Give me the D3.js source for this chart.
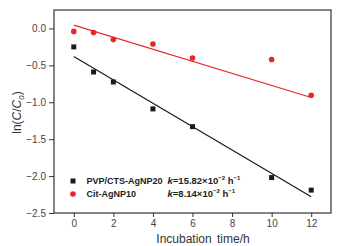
<!DOCTYPE html>
<html>
<head>
<meta charset="utf-8">
<script src="https://cdn.jsdelivr.net/npm/d3@7"></script>
<style>
  body { margin: 0; background: #fff; }
  text { font-family: "Liberation Sans", Arial, sans-serif; }
</style>
</head>
<body>
<div id="chart"></div>
<script>
// incubation time (h) and ln(C/C0)
let times = [0, 1, 2, 4, 6, 10, 12];
let pvpValues = [-0.25, -0.59, -0.725, -1.09, -1.33, -2.02, -2.19];
let citValues = [-0.04, -0.055, -0.15, -0.21, -0.40, -0.42, -0.905];

// linear fit end points (x = 0 and x = 12)
let fitX = [0, 12];
let pvpFit = [-0.38, -2.28];
let citFit = [0.045, -0.935];

let xTicks = [0, 2, 4, 6, 8, 10, 12];
let yTicks = [0.0, -0.5, -1.0, -1.5, -2.0, -2.5];

let seriesNames = ['PVP/CTS-AgNP20', 'Cit-AgNP10'];
let seriesK = ['15.82', '8.14'];

let margin = {top: 10, left: 54, right: 27, bottom: 33},
  width = 358 - margin.left - margin.right,
  height = 246 - margin.top - margin.bottom;

let svg = d3.select('#chart')
  .append('svg')
    .attr('width', 358)
    .attr('height', 246)
  .append('g')
    .attr('transform', 'translate(' + margin.left + ',' + margin.top + ')');

let x = d3.scaleLinear().domain([-1, 13]).range([0, width]);
let y = d3.scaleLinear().domain([-2.5, 0.25]).range([height, 0]);

// axes
let xAxis = svg.append('g')
  .attr('transform', 'translate(0,' + height + ')')
  .call(d3.axisBottom(x).tickValues(xTicks).tickSize(4).tickPadding(3).tickFormat(d3.format('d')));
let yAxis = svg.append('g')
  .call(d3.axisLeft(y).tickValues(yTicks).tickSize(5).tickPadding(3).tickFormat(d3.format('.1f')));

[xAxis, yAxis].forEach(function(a) {
  a.select('.domain').remove();
  a.selectAll('line').attr('stroke', '#333').attr('stroke-width', 1);
  a.selectAll('text').style('font-size', '10px').attr('fill', '#444');
});

// frame
svg.append('rect')
  .attr('width', width)
  .attr('height', height)
  .attr('fill', 'none')
  .attr('stroke', '#333')
  .attr('stroke-width', 1.2);

// fit lines
let line = d3.line().x(function(d) {return x(d[0]);}).y(function(d) {return y(d[1]);});
svg.append('path')
  .datum(d3.zip(fitX, pvpFit))
  .attr('d', line)
  .attr('fill', 'none')
  .attr('stroke', '#1a1a1a')
  .attr('stroke-width', 1.2);
svg.append('path')
  .datum(d3.zip(fitX, citFit))
  .attr('d', line)
  .attr('fill', 'none')
  .attr('stroke', '#e8262a')
  .attr('stroke-width', 1.2);

// markers
let sq = 5;
svg.selectAll('.pvp').data(d3.zip(times, pvpValues))
  .enter()
  .append('rect')
    .attr('class', 'pvp')
    .attr('x', function(d) {return x(d[0]) - sq / 2;})
    .attr('y', function(d) {return y(d[1]) - sq / 2;})
    .attr('width', sq)
    .attr('height', sq)
    .attr('fill', '#1a1a1a');
svg.selectAll('.cit').data(d3.zip(times, citValues))
  .enter()
  .append('circle')
    .attr('class', 'cit')
    .attr('cx', function(d) {return x(d[0]);})
    .attr('cy', function(d) {return y(d[1]);})
    .attr('r', 2.8)
    .attr('fill', '#e8262a');

// legend
let legend = svg.append('g').attr('transform', 'translate(19,171)');
seriesNames.forEach(function(name, i) {
  let row = legend.append('g').attr('transform', 'translate(0,' + (i * 13) + ')');
  if (i === 0) {
    row.append('rect').attr('x', -2.5).attr('y', -2.5).attr('width', sq).attr('height', sq).attr('fill', '#1a1a1a');
  } else {
    row.append('circle').attr('r', 2.8).attr('fill', '#e8262a');
  }
  row.append('text')
    .attr('x', 13.5)
    .attr('y', 3.4)
    .style('font-size', '9px')
    .style('font-weight', 'bold')
    .attr('fill', '#222')
    .text(name);
  let k = row.append('text')
    .attr('x', 94.5)
    .attr('y', 3.4)
    .style('font-size', '9.5px')
    .style('font-weight', 'bold')
    .attr('fill', '#222');
  k.append('tspan').style('font-style', 'italic').text('k');
  k.append('tspan').text('=' + seriesK[i] + '×10');
  k.append('tspan').attr('dy', -4).style('font-size', '6px').text('−2');
  k.append('tspan').attr('dy', 4).text(' h');
  k.append('tspan').attr('dy', -4).style('font-size', '6px').text('−1');
});

// axis titles
svg.append('text')
  .attr('x', 149)
  .attr('y', height + 30)
  .style('font-size', '12px')
  .attr('fill', '#333')
  .attr('text-anchor', 'middle')
  .attr('word-spacing', '2px')
  .text('Incubation time/h');

let yTitle = svg.append('text')
  .attr('transform', 'translate(-33,' + (height / 2 + 1) + ') rotate(-90)')
  .attr('text-anchor', 'middle')
  .style('font-size', '12px')
  .attr('fill', '#333');
yTitle.append('tspan').text('ln(');
yTitle.append('tspan').style('font-style', 'italic').text('C');
yTitle.append('tspan').text('/');
yTitle.append('tspan').style('font-style', 'italic').text('C');
yTitle.append('tspan').attr('dy', 3).style('font-size', '8px').text('0');
yTitle.append('tspan').attr('dy', -3).text(')');
</script>
</body>
</html>
